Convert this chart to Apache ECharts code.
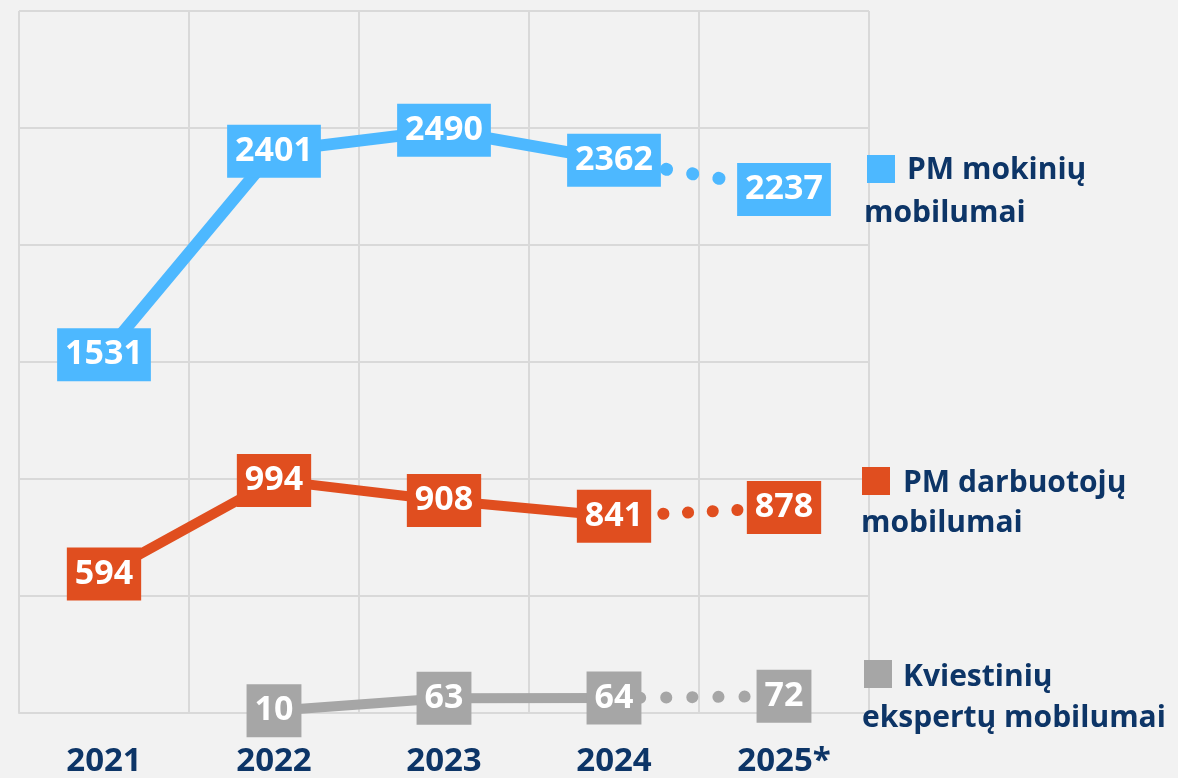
<!DOCTYPE html>
<html>
<head>
<meta charset="utf-8">
<script src="https://cdn.jsdelivr.net/npm/echarts@6/dist/echarts.min.js"></script>
<style>
html,body{margin:0;padding:0;background:#f2f2f2;}
#chart{width:1178px;height:778px;}
</style>
</head>
<body>
<div id="chart"></div>
<script>
const categories = ['2021', '2022', '2023', '2024', '2025*'];
const mokiniuMobilumai = [1531, 2401, 2490, 2362, 2237];
const darbuotojuMobilumai = [594, 994, 908, 841, 878];
const ekspertuMobilumai = [null, 10, 63, 64, 72];
const seriesNames = ['PM mokinių mobilumai', 'PM darbuotojų mobilumai', 'Kviestinių ekspertų mobilumai'];
const legendLines = [['PM mokinių', 'mobilumai'], ['PM darbuotojų', 'mobilumai'], ['Kviestinių', 'ekspertų mobilumai']];

const navy = '#0d3567';
const FONT = '"Open Sans", "Noto Sans", sans-serif';
const lastSolid = 3;

function makeSeries(name, values, color, width, dotWidth, gap) {
  const label = {
    show: true, position: 'inside', color: '#ffffff', fontFamily: FONT,
    fontWeight: 'bold', fontSize: 34, lineHeight: 37, padding: [9, 8, 7, 8],
    backgroundColor: color
  };
  const solid = values.map((v, i) => (i <= lastSolid ? v : null));
  const dotted = values.map((v, i) => {
    if (i < lastSolid) return null;
    if (i === lastSolid) return { value: v, label: { show: false } };
    return v;
  });
  return [
    {
      name: name + ' (dotted)', type: 'line', data: dotted, z: 2,
      symbol: 'circle', symbolSize: 0.1, showSymbol: true,
      itemStyle: { color: color },
      lineStyle: { color: color, width: dotWidth, type: [0.1, gap], cap: 'round' },
      label: label, silent: true, emphasis: { disabled: true }, connectNulls: false
    },
    {
      name: name, type: 'line', data: solid, z: 3,
      symbol: 'circle', symbolSize: 0.1, showSymbol: true,
      itemStyle: { color: color },
      lineStyle: { color: color, width: width, cap: 'butt', join: 'round' },
      label: label, silent: true, emphasis: { disabled: true }, connectNulls: false
    }
  ];
}

const colors = ['#4db8ff', '#e04e1f', '#a6a6a6'];

const series = [
  ...makeSeries(seriesNames[0], mokiniuMobilumai, colors[0], 12, 13, 26.5),
  ...makeSeries(seriesNames[1], darbuotojuMobilumai, colors[1], 10, 12, 24.6),
  ...makeSeries(seriesNames[2], ekspertuMobilumai, colors[2], 10, 12, 26)
];

const legendPos = [
  { mx: 867, my: 155, l1x: 907, l1y: 170, l2x: 864, l2y: 213 },
  { mx: 862, my: 467, l1x: 903, l1y: 483, l2x: 861, l2y: 523 },
  { mx: 864, my: 660, l1x: 903, l1y: 677, l2x: 862, l2y: 718 }
];
const graphic = [];
legendPos.forEach((p, i) => {
  graphic.push({ type: 'rect', z: 100, left: p.mx, top: p.my, shape: { width: 28, height: 28 }, style: { fill: colors[i] } });
  graphic.push({ type: 'text', z: 100, x: p.l1x, y: p.l1y, style: { text: legendLines[i][0], fill: navy, font: 'bold 30px ' + FONT, textVerticalAlign: 'middle' } });
  graphic.push({ type: 'text', z: 100, x: p.l2x, y: p.l2y, style: { text: legendLines[i][1], fill: navy, font: 'bold 30px ' + FONT, textVerticalAlign: 'middle' } });
});

const chart = echarts.init(document.getElementById('chart'), null, { renderer: 'canvas' });
chart.setOption({
  backgroundColor: '#f2f2f2',
  animation: false,
  grid: { left: 19, right: 309, top: 11, bottom: 65, containLabel: false },
  xAxis: {
    type: 'category', data: categories, boundaryGap: true,
    axisLine: { show: true, lineStyle: { color: '#d9d9d9', width: 2 } },
    axisTick: { show: false },
    splitLine: { show: true, lineStyle: { color: '#d9d9d9', width: 2 } },
    axisLabel: { color: navy, fontFamily: FONT, fontWeight: 'bold', fontSize: 33, lineHeight: 33, margin: 32 }
  },
  yAxis: {
    type: 'value', min: 0, max: 3000, interval: 500,
    axisLine: { show: false }, axisTick: { show: false }, axisLabel: { show: false },
    splitLine: { show: true, lineStyle: { color: '#d9d9d9', width: 2 } }
  },
  series: series,
  graphic: graphic
});
</script>
</body>
</html>
